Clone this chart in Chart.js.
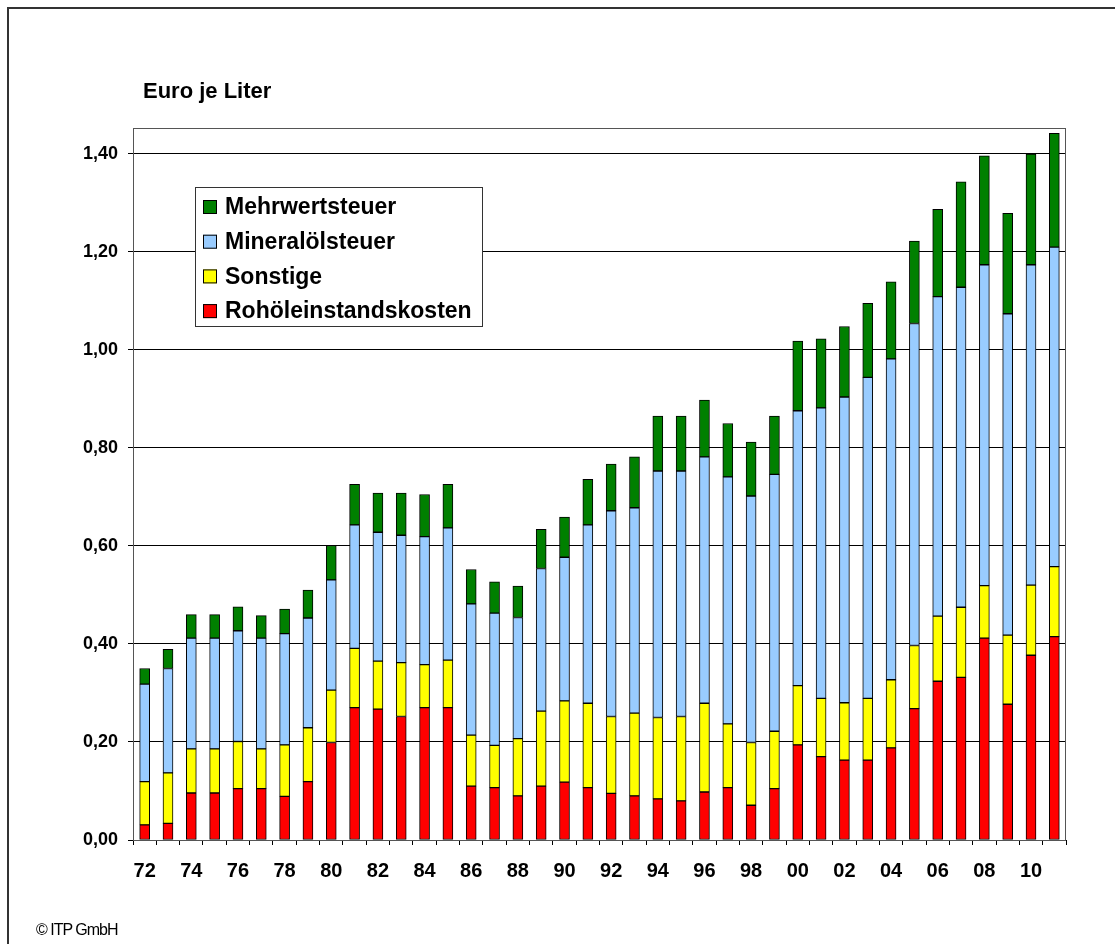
<!DOCTYPE html>
<html lang="de">
<head>
  <meta charset="UTF-8">
  <title>Euro je Liter</title>
  <script src="https://cdn.jsdelivr.net/npm/chart.js"></script>
  <style>
    html, body { margin: 0; padding: 0; background: #fff; overflow: hidden; }
    #wrap { position: relative; width: 1115px; height: 944px; }
    #frame { position: absolute; left: 7px; top: 7px; width: 1200px; height: 1000px; border: 2px solid #333; }
    #chartTitle { position: absolute; left: 143px; top: 78px; font: bold 22px "Liberation Sans", Arial, sans-serif; color: #000; }
    #copyright { position: absolute; left: 36px; top: 921px; font: 16px "Liberation Sans", Arial, sans-serif; letter-spacing: -1px; color: #000; }
    canvas { position: absolute; left: 0; top: 0; }
  </style>
</head>
<body>
  <div id="wrap">
    <div id="frame"></div>
    <canvas id="priceChart" width="1115" height="944"></canvas>
    <div id="chartTitle">Euro je Liter</div>
    <div id="copyright">© ITP GmbH</div>
  </div>

  <script>
    // Jahre 1972 - 2011
    const years = ["72","73","74","75","76","77","78","79","80","81","82","83","84","85","86","87","88","89","90","91",
                   "92","93","94","95","96","97","98","99","00","01","02","03","04","05","06","07","08","09","10","11"];

    // Anteile in Euro je Liter
    const rohoel = [0.031,0.034,0.096,0.096,0.105,0.105,0.089,0.119,0.199,0.270,0.267,0.252,0.270,0.270,0.110,0.107,0.090,0.110,0.118,0.107,
                    0.095,0.090,0.084,0.080,0.098,0.107,0.071,0.105,0.194,0.170,0.163,0.163,0.188,0.268,0.324,0.332,0.412,0.277,0.377,0.415];
    const sonstige = [0.088,0.103,0.090,0.090,0.096,0.081,0.105,0.110,0.107,0.121,0.098,0.110,0.088,0.097,0.104,0.086,0.117,0.153,0.166,0.172,
                      0.157,0.169,0.166,0.172,0.181,0.130,0.128,0.117,0.121,0.119,0.117,0.126,0.139,0.129,0.133,0.143,0.107,0.141,0.143,0.143];
    const mineraloel = [0.199,0.213,0.226,0.226,0.226,0.226,0.227,0.224,0.225,0.252,0.263,0.260,0.261,0.270,0.268,0.270,0.247,0.291,0.293,0.364,
                        0.420,0.419,0.503,0.501,0.503,0.504,0.503,0.524,0.561,0.593,0.624,0.655,0.655,0.657,0.652,0.653,0.655,0.656,0.654,0.652];
    const mwst = [0.032,0.039,0.048,0.048,0.049,0.046,0.050,0.057,0.070,0.083,0.080,0.086,0.086,0.089,0.070,0.064,0.064,0.080,0.082,0.093,
                  0.095,0.104,0.112,0.112,0.116,0.109,0.110,0.119,0.142,0.141,0.144,0.151,0.157,0.168,0.178,0.215,0.222,0.205,0.226,0.232];

    const yTicks = [0, 0.2, 0.4, 0.6, 0.8, 1.0, 1.2, 1.4];

    const FONT = "'Liberation Sans', Arial, sans-serif";

    // Rahmen um die Zeichenfläche + Legende innerhalb der Fläche
    const boxPlugin = {
      id: "boxPlugin",
      afterDraw(chart) {
        const { ctx, chartArea } = chart;
        ctx.save();
        ctx.strokeStyle = "#555";
        ctx.lineWidth = 1;
        ctx.strokeRect(chartArea.left + 0.5, chartArea.top + 0.5, chartArea.right - chartArea.left - 1, chartArea.bottom - chartArea.top);

        // Legende
        const x = 195, y = 187, w = 287, h = 139;
        ctx.fillStyle = "#fff";
        ctx.fillRect(x, y, w, h);
        ctx.strokeStyle = "#333";
        ctx.strokeRect(x + 0.5, y + 0.5, w, h);
        ctx.font = "bold 23px " + FONT;
        ctx.textBaseline = "middle";
        const items = chart.data.datasets.slice().reverse();
        items.forEach((ds, i) => {
          const cy = 207 + i * 34.7;
          ctx.fillStyle = ds.backgroundColor;
          ctx.fillRect(203, cy - 7, 14, 14);
          ctx.strokeStyle = "#000";
          ctx.strokeRect(203.5, cy - 6.5, 13, 13);
          ctx.fillStyle = "#000";
          ctx.fillText(ds.label, 225, cy + 1);
        });
        ctx.restore();
      }
    };

    const ctx = document.getElementById("priceChart").getContext("2d");

    function makeSet(label, data, color) {
      return {
        label: label,
        data: data,
        backgroundColor: color,
        borderColor: "#000",
        borderWidth: 1,
        borderSkipped: false,
        barThickness: 10,
        stack: "preis",
      };
    }

    window.myChart = new Chart(ctx, {
      type: "bar",
      data: {
        labels: years,
        datasets: [
          makeSet("Rohöleinstandskosten", rohoel, "#FF0000"),
          makeSet("Sonstige", sonstige, "#FFFF00"),
          makeSet("Mineralölsteuer", mineraloel, "#99CCFF"),
          makeSet("Mehrwertsteuer", mwst, "#008000"),
        ],
      },
      options: {
        responsive: false,
        animation: false,
        devicePixelRatio: 1,
        layout: { padding: { top: 128, right: 49, left: 0, bottom: 0 } },
        plugins: {
          legend: { display: false },
          tooltip: { enabled: false },
        },
        scales: {
          x: {
            stacked: true,
            afterFit: (scale) => { scale.height = 104; },
            grid: { display: true, offset: true, drawOnChartArea: false, drawTicks: true, tickLength: 5, color: "#000" },
            border: { display: true, color: "#000" },
            ticks: {
              autoSkip: false,
              maxRotation: 0,
              padding: 14,
              color: "#000",
              font: { family: FONT, size: 20, weight: "bold" },
              callback: (val, i) => (i % 2 === 0 ? years[i] : ""),
            },
          },
          y: {
            stacked: true,
            min: 0,
            max: 1.453,
            afterFit: (scale) => { scale.width = 133; },
            afterBuildTicks: (scale) => { scale.ticks = yTicks.map(v => ({ value: v })); },
            grid: { color: "#000", lineWidth: 1, drawTicks: true, tickLength: 5 },
            border: { display: true, color: "#000" },
            ticks: {
              padding: 10,
              color: "#000",
              font: { family: FONT, size: 18, weight: "bold" },
              callback: (v) => Number(v).toFixed(2).replace(".", ","),
            },
          },
        },
      },
      plugins: [boxPlugin],
    });
  </script>
</body>
</html>
